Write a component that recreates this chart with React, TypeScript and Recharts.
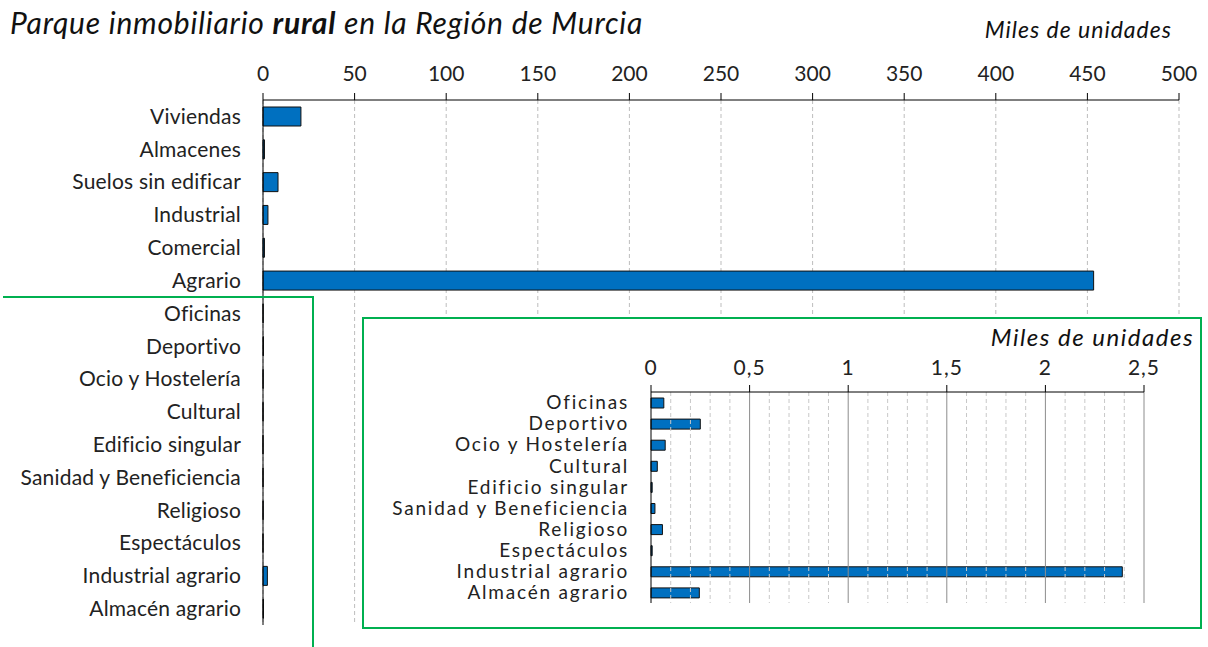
import React from "react";
import { BarChart, Bar, XAxis, YAxis, CartesianGrid, ReferenceLine } from "recharts";

// main chart: all rural property types (thousands of units)
const MAIN_CATEGORIES = [
  "Viviendas",
  "Almacenes",
  "Suelos sin edificar",
  "Industrial",
  "Comercial",
  "Agrario",
  "Oficinas",
  "Deportivo",
  "Ocio y Hostelería",
  "Cultural",
  "Edificio singular",
  "Sanidad y Beneficiencia",
  "Religioso",
  "Espectáculos",
  "Industrial agrario",
  "Almacén agrario",
];
const MAIN_VALUES = [20.7, 0.8, 8.2, 2.7, 0.8, 453.4, 0.07, 0.25, 0.07, 0.03, 0.006, 0.02, 0.06, 0.006, 2.39, 0.24];
const MAIN_TICKS = [0, 50, 100, 150, 200, 250, 300, 350, 400, 450, 500];

// inset: zoom on the small categories
const INSET_CATEGORIES = [
  "Oficinas",
  "Deportivo",
  "Ocio y Hostelería",
  "Cultural",
  "Edificio singular",
  "Sanidad y Beneficiencia",
  "Religioso",
  "Espectáculos",
  "Industrial agrario",
  "Almacén agrario",
];
const INSET_VALUES = [0.065, 0.25, 0.072, 0.032, 0.006, 0.02, 0.058, 0.006, 2.39, 0.245];
const INSET_TICKS = [0, 0.5, 1, 1.5, 2, 2.5];
const INSET_MINOR = [0.1, 0.2, 0.3, 0.4, 0.6, 0.7, 0.8, 0.9, 1.1, 1.2, 1.3, 1.4, 1.6, 1.7, 1.8, 1.9, 2.1, 2.2, 2.3, 2.4];

const BLUE = "#0070C0";
const GREEN = "#00B050";
const FONT = "Lato, 'Open Sans', sans-serif";

const mainData = MAIN_CATEGORIES.map((name, i) => ({ name, value: MAIN_VALUES[i] }));
const insetData = INSET_CATEGORIES.map((name, i) => ({ name, value: INSET_VALUES[i] }));

export default function App() {
  return (
    <div style={{ position: "relative", width: 1208, height: 647, overflow: "hidden", background: "#fff", fontFamily: FONT }}>
      <style>{`body{margin:0}`}</style>

      <div
        style={{
          position: "absolute",
          left: 10,
          top: 4,
          fontSize: 30,
          letterSpacing: 0.8,
          fontStyle: "italic",
          color: "#111",
          whiteSpace: "nowrap",
        }}
      >
        Parque inmobiliario <b>rural</b> en la Región de Murcia
      </div>
      <div
        style={{
          position: "absolute",
          right: 36,
          top: 15,
          fontSize: 23,
          letterSpacing: 1,
          fontStyle: "italic",
          color: "#111",
          whiteSpace: "nowrap",
        }}
      >
        Miles de unidades
      </div>

      <div style={{ position: "absolute", left: 0, top: 0 }}>
        <BarChart
          width={1208}
          height={647}
          data={mainData}
          layout="vertical"
          margin={{ top: 70, right: 29, bottom: 22, left: 0 }}
        >
          <CartesianGrid horizontal={false} stroke="#bdbdbd" strokeDasharray="4 3" />
          <XAxis
            type="number"
            orientation="top"
            domain={[0, 500]}
            ticks={MAIN_TICKS}
            height={30}
            axisLine={{ stroke: "#000" }}
            tickLine={{ stroke: "#000" }}
            tickSize={7}
            tickMargin={12}
            tick={{ fill: "#222", fontSize: 21, fontFamily: FONT }}
            interval={0}
          />
          <YAxis
            type="category"
            dataKey="name"
            width={263}
            axisLine={{ stroke: "#000" }}
            tickLine={false}
            tickSize={0}
            tickMargin={22}
            tick={{ fill: "#222", fontSize: 21, fontFamily: FONT, letterSpacing: 0.2 }}
            interval={0}
          />
          <Bar dataKey="value" fill={BLUE} stroke="#111" strokeWidth={1} barSize={19} isAnimationActive={false} />
        </BarChart>
      </div>

      {/* green frame linking the small categories to the inset */}
      <div
        style={{
          position: "absolute",
          left: 3,
          top: 296,
          width: 309,
          height: 400,
          borderTop: `2px solid ${GREEN}`,
          borderRight: `2px solid ${GREEN}`,
        }}
      />

      <div
        style={{
          position: "absolute",
          left: 362,
          top: 317,
          width: 836,
          height: 308,
          border: `2px solid ${GREEN}`,
          background: "#fff",
        }}
      >
        <div
          style={{
            position: "absolute",
            right: 6,
            top: 3,
            fontSize: 24,
            letterSpacing: 1.5,
            fontStyle: "italic",
            color: "#111",
            whiteSpace: "nowrap",
          }}
        >
          Miles de unidades
        </div>
        <BarChart
          width={836}
          height={308}
          data={insetData}
          layout="vertical"
          margin={{ top: 43, right: 56, bottom: 24, left: 0 }}
        >
          {INSET_MINOR.map((v) => (
            <ReferenceLine key={v} x={v} stroke="#c8c8c8" strokeDasharray="4 3" />
          ))}
          {INSET_TICKS.slice(1).map((v) => (
            <ReferenceLine key={v} x={v} stroke="#8c8c8c" />
          ))}
          <XAxis
            type="number"
            orientation="top"
            domain={[0, 2.5]}
            ticks={INSET_TICKS}
            height={30}
            axisLine={{ stroke: "#000" }}
            tickLine={{ stroke: "#000" }}
            tickSize={7}
            tickMargin={10}
            tickFormatter={(v: number) => String(v).replace(".", ",")}
            tick={{ fill: "#222", fontSize: 21, fontFamily: FONT, letterSpacing: 1 }}
            interval={0}
          />
          <YAxis
            type="category"
            dataKey="name"
            width={287}
            axisLine={{ stroke: "#000" }}
            tickLine={false}
            tickSize={0}
            tickMargin={22}
            tick={{ fill: "#222", fontSize: 19, fontFamily: FONT, letterSpacing: 1.8 }}
            interval={0}
          />
          <Bar dataKey="value" fill={BLUE} stroke="#111" strokeWidth={1} barSize={10} isAnimationActive={false} />
        </BarChart>
      </div>
    </div>
  );
}
